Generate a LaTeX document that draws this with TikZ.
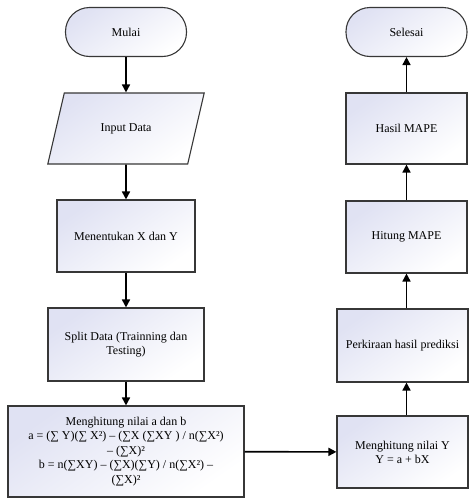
\documentclass[tikz,border=0pt]{standalone}
\usepackage{fontspec}
\setmainfont{Liberation Serif}
\usetikzlibrary{arrows.meta}
\usetikzlibrary{shapes.geometric}
\definecolor{boxline}{RGB}{55,55,55}
\definecolor{boxfill}{RGB}{224,226,243}

\begin{document}
\begin{tikzpicture}[x=1pt,y=-1pt,
	box/.style={draw=boxline, line width=1.1pt, top color=boxfill, bottom color=white, shading angle=35, align=center, inner sep=2pt, font=\fontsize{12}{14}\selectfont},
	proc/.style={box, rectangle, minimum width=#1},
	term/.style={box, rectangle, rounded corners=24pt, minimum width=121pt, minimum height=49pt},
	io/.style={box, trapezium, trapezium left angle=63, trapezium right angle=117, trapezium stretches=true, minimum width=157pt, minimum height=71pt},
	flow/.style={draw=black, line width=1.6pt, -{Triangle[length=8pt,width=8pt]}}]
	
	\useasboundingbox (0,0) rectangle (469,498);
	
	\node[term] (mulai) at (126,32) {Mulai};
	\node[io] (input) at (126,128.5) {Input Data};
	\node[proc=138pt, minimum height=72pt] (xy) at (126,236) {Menentukan X dan Y};
	\node[proc=156pt, minimum height=73pt] (split) at (126,344.5) {Split Data (Trainning dan\\Testing)};
	\node[proc=236pt, minimum height=91pt, font=\fontsize{12}{14.5}\selectfont] (hitab) at (126,451.5) {Menghitung nilai a dan b\\a = (∑ Y)(∑ X²) – (∑X (∑XY ) / n(∑X²)\\– (∑X)²\\b = n(∑XY) – (∑X)(∑Y) / n(∑X²) –\\(∑X)²};
	
	\node[term] (selesai) at (406.5,32) {Selesai};
	\node[proc=121pt, minimum height=71pt] (hasil) at (406.5,128.5) {Hasil MAPE};
	\node[proc=121pt, minimum height=72pt] (mape) at (406.5,237) {Hitung MAPE};
	\node[proc=131pt, minimum height=73pt] (prediksi) at (402.5,345.5) {Perkiraan hasil prediksi};
	\node[proc=131pt, minimum height=72pt] (hity) at (402.5,452) {Menghitung nilai Y\\Y = a + bX};
	
	\draw[flow] (mulai) -- (input);
	\draw[flow] (input) -- (xy);
	\draw[flow] (xy) -- (split);
	\draw[flow] (split) -- (hitab);
	\draw[flow] (hitab) -- (hity);
	\draw[flow] (hity.north -| mape.south) -- (prediksi.south -| mape.south);
	\draw[flow] (prediksi.north -| mape.south) -- (mape);
	\draw[flow] (mape) -- (hasil);
	\draw[flow] (hasil) -- (selesai);
\end{tikzpicture}
\end{document}
